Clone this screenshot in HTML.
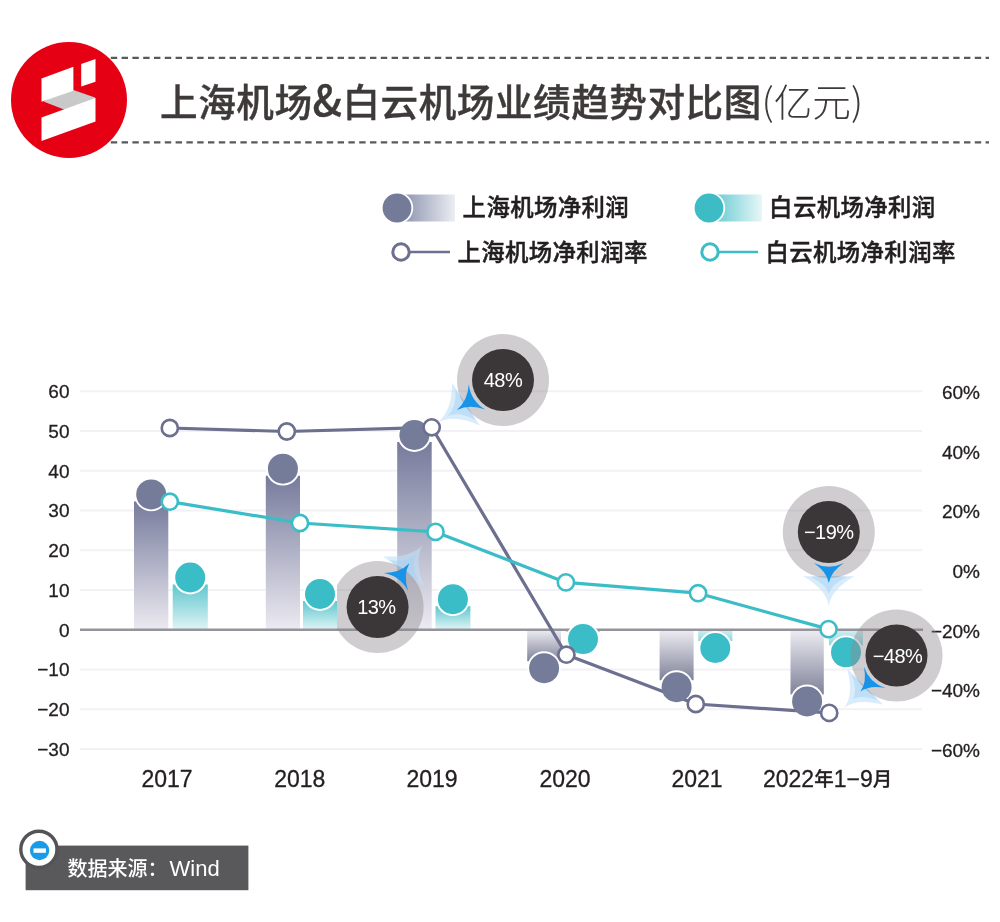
<!DOCTYPE html>
<html lang="zh-CN">
<head>
<meta charset="utf-8">
<title>上海机场&amp;白云机场业绩趋势对比图</title>
<style>
html,body{margin:0;padding:0;background:#fff;}
body{width:1000px;height:922px;overflow:hidden;}
svg{display:block;}
text{font-family:"Liberation Sans","Noto Sans CJK SC",sans-serif;}
.cjk{font-family:"Noto Sans CJK SC","Liberation Sans",sans-serif;}
</style>
</head>
<body>
<svg width="1000" height="922" viewBox="0 0 1000 922">
<defs>
<linearGradient id="gGray" x1="0" y1="0" x2="0" y2="1"><stop offset="0" stop-color="#767b9c"/><stop offset="1" stop-color="#eceaf1"/></linearGradient>
<linearGradient id="gGrayN" x1="0" y1="0" x2="0" y2="1"><stop offset="0" stop-color="#eeedf3"/><stop offset="1" stop-color="#7f8299"/></linearGradient>
<linearGradient id="gTeal" x1="0" y1="0" x2="0" y2="1"><stop offset="0" stop-color="#5fc7cf"/><stop offset="1" stop-color="#e0f4f5"/></linearGradient>
<linearGradient id="gTealN" x1="0" y1="0" x2="0" y2="1"><stop offset="0" stop-color="#d4eff1"/><stop offset="1" stop-color="#8fd7dd"/></linearGradient>
<linearGradient id="lgGray" x1="0" y1="0" x2="1" y2="0"><stop offset="0" stop-color="#8189a6"/><stop offset="1" stop-color="#eceef3"/></linearGradient>
<linearGradient id="lgTeal" x1="0" y1="0" x2="1" y2="0"><stop offset="0" stop-color="#58c5cd"/><stop offset="1" stop-color="#e8f7f8"/></linearGradient>
<clipPath id="clip13"><rect x="337" y="540" width="120" height="130"/></clipPath>
</defs>
<rect width="1000" height="922" fill="#ffffff"/>

<g stroke="#595959" stroke-width="2.2" stroke-dasharray="6.4 4.4" fill="none">
<line x1="100" y1="57.8" x2="989" y2="57.8"/><line x1="100" y1="142.4" x2="989" y2="142.4"/></g>
<circle cx="69" cy="100" r="58" fill="#e60013"/>
<polygon points="43.5,101.4 60,92 73.4,90 95,97.6 95,101 66,112 64,109.4" fill="#c9c9ca"/>
<polygon points="41.5,78.4 73.4,66.7 73.4,90.8 41.5,101.8" fill="#fff"/>
<polygon points="41.5,117.5 95.5,98 95.5,121.4 41.5,141" fill="#fff"/>
<polygon points="81.2,64 95.5,58.9 95.5,81.7 81.2,86.4" fill="#fff"/>
<text class="cjk" x="160" y="116" font-size="37.6" font-weight="500" letter-spacing="0.55" fill="#3e3a39" stroke="#3e3a39" stroke-width="0.4">上海机场<tspan font-size="41.5">&amp;</tspan>白云机场业绩趋势对比图</text><text class="cjk" x="761.6" y="116" font-size="37.8" font-weight="300" fill="#3e3a39" textLength="101.5" lengthAdjust="spacingAndGlyphs">(亿元)</text>
<rect x="397" y="194.5" width="58" height="27" fill="url(#lgGray)"/>
<circle cx="397" cy="208" r="16.2" fill="#fff"/><circle cx="397" cy="208" r="14.4" fill="#737b98"/>
<rect x="709" y="194.5" width="53" height="27" fill="url(#lgTeal)"/>
<circle cx="709" cy="208" r="16.2" fill="#fff"/><circle cx="709" cy="208" r="14.4" fill="#3dbcc6"/>
<line x1="401" y1="252" x2="450" y2="252" stroke="#6c6f8e" stroke-width="2.6"/>
<circle cx="401" cy="252" r="8.2" fill="#fff" stroke="#6c6f8e" stroke-width="3"/>
<line x1="710" y1="252" x2="758" y2="252" stroke="#3dbcc6" stroke-width="2.6"/>
<circle cx="710" cy="252" r="8.2" fill="#fff" stroke="#3dbcc6" stroke-width="3"/>
<text class="cjk" font-size="23.4" font-weight="500" fill="#231f20" stroke="#231f20" stroke-width="0.45" letter-spacing="0.4" x="462.6" y="215.8">上海机场净利润</text>
<text class="cjk" font-size="23.4" font-weight="500" fill="#231f20" stroke="#231f20" stroke-width="0.45" letter-spacing="0.4" x="769.1" y="215.8">白云机场净利润</text>
<text class="cjk" font-size="23.4" font-weight="500" fill="#231f20" stroke="#231f20" stroke-width="0.45" letter-spacing="0.4" x="457.4" y="260.5">上海机场净利润率</text>
<text class="cjk" font-size="23.4" font-weight="500" fill="#231f20" stroke="#231f20" stroke-width="0.45" letter-spacing="0.4" x="765.4" y="260.5">白云机场净利润率</text>
<g stroke="#f2f1f5" stroke-width="2">
<line x1="80" y1="391.3" x2="922" y2="391.3"/>
<line x1="80" y1="431.0" x2="922" y2="431.0"/>
<line x1="80" y1="470.8" x2="922" y2="470.8"/>
<line x1="80" y1="510.5" x2="922" y2="510.5"/>
<line x1="80" y1="550.3" x2="922" y2="550.3"/>
<line x1="80" y1="590.0" x2="922" y2="590.0"/>
<line x1="80" y1="669.5" x2="922" y2="669.5"/>
<line x1="80" y1="709.3" x2="922" y2="709.3"/>
<line x1="80" y1="749.0" x2="922" y2="749.0"/>
</g>
<g font-size="19" fill="#231f20" stroke="#231f20" stroke-width="0.3" text-anchor="end">
<text x="69.5" y="398.1">60</text>
<text x="69.5" y="437.8">50</text>
<text x="69.5" y="477.6">40</text>
<text x="69.5" y="517.3">30</text>
<text x="69.5" y="557.1">20</text>
<text x="69.5" y="596.8">10</text>
<text x="69.5" y="636.6">0</text>
<text x="69.5" y="676.3">−10</text>
<text x="69.5" y="716.1">−20</text>
<text x="69.5" y="755.8">−30</text>
</g>
<g font-size="19" fill="#231f20" stroke="#231f20" stroke-width="0.3" text-anchor="end">
<text x="980" y="398.9">60%</text>
<text x="980" y="458.6">40%</text>
<text x="980" y="518.2">20%</text>
<text x="980" y="577.9">0%</text>
<text x="980" y="637.6">−20%</text>
<text x="980" y="697.2">−40%</text>
<text x="980" y="756.9">−60%</text>
</g>
<g font-size="23" fill="#231f20" stroke="#231f20" stroke-width="0.3" text-anchor="middle">
<text x="167" y="786.8">2017</text>
<text x="299.8" y="786.8">2018</text>
<text x="432" y="786.8">2019</text>
<text x="565" y="786.8">2020</text>
<text x="697" y="786.8">2021</text>
<text x="827.6" y="786.6">2022<tspan class="cjk" font-size="19.5" font-weight="500" dy="-0.6">年</tspan><tspan dy="0.6">1−9</tspan><tspan class="cjk" font-size="19.5" font-weight="500" dy="-0.6">月</tspan></text>
</g>
<rect x="134" y="501.4" width="34.3" height="128.4" fill="url(#gGray)"/>
<rect x="265.8" y="475.7" width="34.2" height="154.1" fill="url(#gGray)"/>
<rect x="397.2" y="442" width="34.5" height="187.8" fill="url(#gGray)"/>
<rect x="527.2" y="629.8" width="33.8" height="31.4" fill="url(#gGrayN)"/>
<rect x="659.6" y="629.8" width="34.0" height="50.4" fill="url(#gGrayN)"/>
<rect x="790.5" y="629.8" width="33.3" height="64.6" fill="url(#gGrayN)"/>
<rect x="172.7" y="584.5" width="35.1" height="45.3" fill="url(#gTeal)"/>
<rect x="303" y="601" width="34.0" height="28.8" fill="url(#gTeal)"/>
<rect x="435.5" y="606.2" width="34.9" height="23.6" fill="url(#gTeal)"/>
<rect x="566" y="629.8" width="34.0" height="2.3" fill="url(#gTealN)"/>
<rect x="698.2" y="629.8" width="34.2" height="11.2" fill="url(#gTealN)"/>
<rect x="829" y="629.8" width="34.0" height="15.5" fill="url(#gTealN)"/>
<line x1="80" y1="629.8" x2="923" y2="629.8" stroke="#95939b" stroke-width="2.4"/>
<g fill="#fff">
<circle cx="151.2" cy="494.4" r="16.9"/>
<circle cx="282.9" cy="468.7" r="16.9"/>
<circle cx="414.4" cy="435" r="16.9"/>
<circle cx="544.1" cy="668.2" r="16.9"/>
<circle cx="676.6" cy="687.2" r="16.9"/>
<circle cx="807.1" cy="701.4" r="16.9"/>
<circle cx="190.2" cy="577.5" r="16.9"/>
<circle cx="320.0" cy="594" r="16.9"/>
<circle cx="452.9" cy="599.2" r="16.9"/>
<circle cx="583.0" cy="639.1" r="16.9"/>
<circle cx="715.3" cy="648" r="16.9"/>
<circle cx="846.0" cy="652.3" r="16.9"/>
</g>
<polyline points="169.8,428 286.8,431.5 431.7,427.3 566.4,654.7 695.8,704 829.2,712.9" fill="none" stroke="#6c6f8e" stroke-width="3.2" stroke-linejoin="round"/>
<polyline points="169.8,501.7 300,523 435.5,531.9 565.9,582.4 698.1,593.2 828.5,629.1" fill="none" stroke="#3bbdc7" stroke-width="3.2" stroke-linejoin="round"/>
<g fill="#747c99">
<circle cx="151.2" cy="494.4" r="15"/>
<circle cx="282.9" cy="468.7" r="15"/>
<circle cx="414.4" cy="435" r="15"/>
<circle cx="544.1" cy="668.2" r="15"/>
<circle cx="676.6" cy="687.2" r="15"/>
<circle cx="807.1" cy="701.4" r="15"/>
</g>
<g fill="#3bbdc7">
<circle cx="190.2" cy="577.5" r="15"/>
<circle cx="320.0" cy="594" r="15"/>
<circle cx="452.9" cy="599.2" r="15"/>
<circle cx="583.0" cy="639.1" r="15"/>
<circle cx="715.3" cy="648" r="15"/>
<circle cx="846.0" cy="652.3" r="15"/>
</g>
<g fill="#fff" stroke="#6c6f8e" stroke-width="2.6">
<circle cx="169.8" cy="428" r="8.1"/>
<circle cx="286.8" cy="431.5" r="8.1"/>
<circle cx="431.7" cy="427.3" r="8.1"/>
<circle cx="566.4" cy="654.7" r="8.1"/>
<circle cx="695.8" cy="704" r="8.1"/>
<circle cx="829.2" cy="712.9" r="8.1"/>
</g>
<g fill="#fff" stroke="#3bbdc7" stroke-width="2.6">
<circle cx="169.8" cy="501.7" r="8.1"/>
<circle cx="300" cy="523" r="8.1"/>
<circle cx="435.5" cy="531.9" r="8.1"/>
<circle cx="565.9" cy="582.4" r="8.1"/>
<circle cx="698.1" cy="593.2" r="8.1"/>
<circle cx="828.5" cy="629.1" r="8.1"/>
</g>
<g transform="translate(503,380) rotate(147)">
<path d="M44.17,-25.50 Q59.10,-2.00 78.00,0 Q59.10,2.00 44.17,25.50 Q43.83,0 44.17,-25.50Z" fill="#bfe0f8" opacity="0.6"/>
<path d="M44.97,-18.17 Q53.75,-2.00 66.00,0 Q53.75,2.00 44.97,18.17 Q43.03,0 44.97,-18.17Z" fill="#9fd0f4" opacity="0.45"/>
</g>
<circle cx="503" cy="380" r="46" fill="#8c878c" fill-opacity="0.42"/>
<g transform="translate(503,380) rotate(147)"><path d="M31.01,-15.12 Q40.65,-2.00 55.00,0 Q40.65,2.00 31.01,15.12 A34.50,34.50 0 0 0 31.01,-15.12Z" fill="#1793ea"/></g>
<circle cx="503" cy="380" r="31" fill="#3b3638"/>
<text x="503" y="387" font-size="20" fill="#fff" text-anchor="middle" letter-spacing="-0.5">48%</text>
<g transform="translate(377.6,607) rotate(-54)">
<path d="M44.17,-25.50 Q58.80,-2.00 77.00,0 Q58.80,2.00 44.17,25.50 Q43.83,0 44.17,-25.50Z" fill="#bfe0f8" opacity="0.6"/>
<path d="M44.97,-18.17 Q53.45,-2.00 65.00,0 Q53.45,2.00 44.97,18.17 Q43.03,0 44.97,-18.17Z" fill="#9fd0f4" opacity="0.45"/>
</g>
<circle cx="377.6" cy="607" r="46" fill="#8c878c" fill-opacity="0.42" clip-path="url(#clip13)"/>
<g transform="translate(377.6,607) rotate(-54)"><path d="M31.01,-15.12 Q40.35,-2.00 54.00,0 Q40.35,2.00 31.01,15.12 A34.50,34.50 0 0 0 31.01,-15.12Z" fill="#1793ea"/></g>
<circle cx="377.6" cy="607" r="31" fill="#3b3638"/>
<text x="376.40000000000003" y="614" font-size="20" fill="#fff" text-anchor="middle" letter-spacing="-0.5">13%</text>
<g transform="translate(828.8,532) rotate(90)">
<path d="M44.17,-25.50 Q57.90,-2.00 74.00,0 Q57.90,2.00 44.17,25.50 Q43.83,0 44.17,-25.50Z" fill="#bfe0f8" opacity="0.6"/>
<path d="M44.97,-18.17 Q52.55,-2.00 62.00,0 Q52.55,2.00 44.97,18.17 Q43.03,0 44.97,-18.17Z" fill="#9fd0f4" opacity="0.45"/>
</g>
<circle cx="828.8" cy="532" r="46" fill="#8c878c" fill-opacity="0.42"/>
<g transform="translate(828.8,532) rotate(90)"><path d="M31.01,-15.12 Q39.45,-2.00 51.00,0 Q39.45,2.00 31.01,15.12 A34.50,34.50 0 0 0 31.01,-15.12Z" fill="#1793ea"/></g>
<circle cx="828.8" cy="532" r="31" fill="#3b3638"/>
<text x="828.8" y="539" font-size="20" fill="#fff" text-anchor="middle" letter-spacing="-0.5">−19%</text>
<g transform="translate(896.5,655.5) rotate(135)">
<path d="M44.17,-25.50 Q57.90,-2.00 74.00,0 Q57.90,2.00 44.17,25.50 Q43.83,0 44.17,-25.50Z" fill="#bfe0f8" opacity="0.6"/>
<path d="M44.97,-18.17 Q52.55,-2.00 62.00,0 Q52.55,2.00 44.97,18.17 Q43.03,0 44.97,-18.17Z" fill="#9fd0f4" opacity="0.45"/>
</g>
<circle cx="896.5" cy="655.5" r="46" fill="#8c878c" fill-opacity="0.42"/>
<g transform="translate(896.5,655.5) rotate(135)"><path d="M31.01,-15.12 Q39.45,-2.00 51.00,0 Q39.45,2.00 31.01,15.12 A34.50,34.50 0 0 0 31.01,-15.12Z" fill="#1793ea"/></g>
<circle cx="896.5" cy="655.5" r="31" fill="#3b3638"/>
<text x="897.5" y="662.5" font-size="20" fill="#fff" text-anchor="middle" letter-spacing="-0.5">−48%</text>
<rect x="25.6" y="845.6" width="222.8" height="44.6" fill="#59585b"/>
<circle cx="38.9" cy="849.3" r="18.1" fill="#fff" stroke="#545356" stroke-width="3.4"/>
<circle cx="39.6" cy="850.5" r="9.7" fill="#1a9be8"/>
<rect x="33.5" y="848.4" width="12.4" height="4.4" fill="#fff"/>
<text class="cjk" x="67.5" y="876.3" font-size="20" font-weight="500" fill="#fff">数据来源：<tspan font-family="Liberation Sans, sans-serif" font-size="22" font-weight="400" dx="2">Wind</tspan></text>
</svg>
</body>
</html>
